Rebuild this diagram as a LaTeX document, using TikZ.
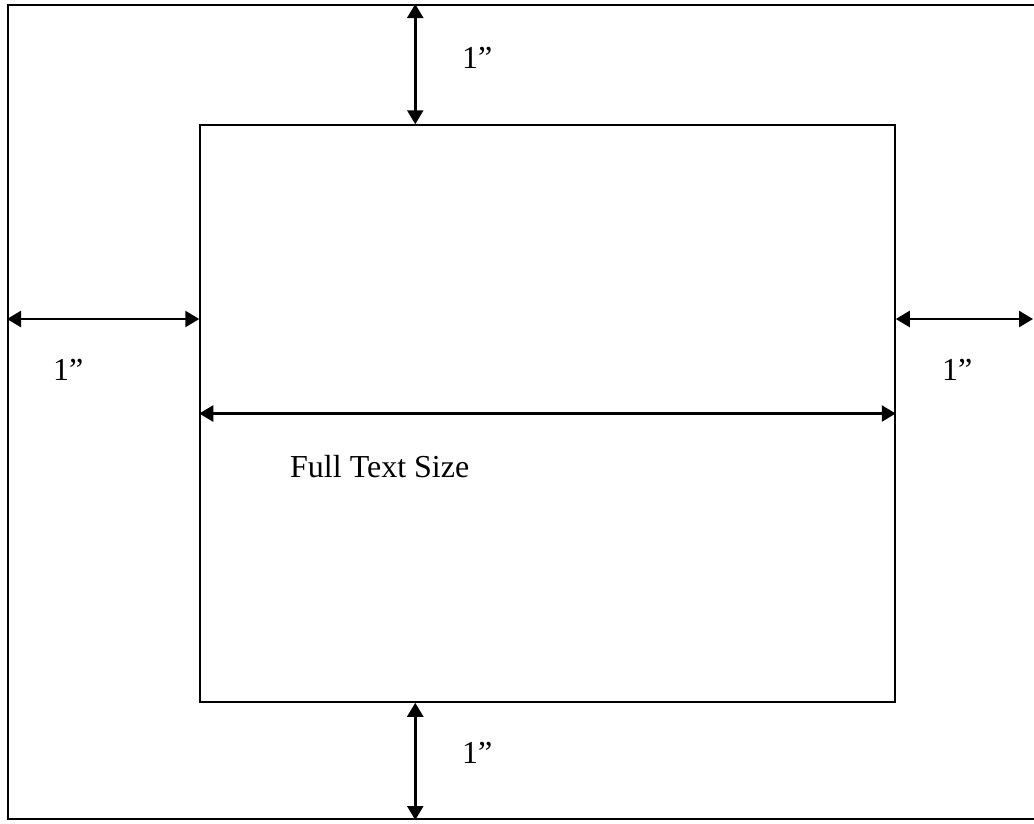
\documentclass[tikz,border=0pt]{standalone}
\usepackage{fontspec}
\setmainfont{Liberation Serif}
\usetikzlibrary{positioning,arrows.meta}
\newcommand{\frbox}[4]{
    \node(#1)[
        draw,
        line width=#2,
        inner sep=0pt,
        minimum width=#3,
        minimum height=#4,
    ]{};
}
\tikzset{
    dimarrow/.style={
        {Triangle[length=14pt,width=16pt]}-{Triangle[length=14pt,width=16pt]},
        line width=2.5pt,
    },
    dimlabel/.style={
        anchor=base west,
        inner sep=0pt,
        font=\fontsize{32}{38}\selectfont,
    },
}

\begin{document}
\begin{tikzpicture}[x=1pt,y=-1pt]
	\useasboundingbox (0,0) rectangle (1034,823);
	
	\begin{scope}[shift={(529,412)}]
	\frbox{page}{2pt}{1042pt}{814pt}
	\end{scope}
	\begin{scope}[shift={(547.5,413.5)}]
	\frbox{text}{1.5pt}{695pt}{577pt}
	\end{scope}
	
	\coordinate (topx) at ([xshift=216pt]text.north west);
	\coordinate (botx) at ([xshift=216pt]text.south west);
	\coordinate (midl) at ([yshift=94.5pt]text.west);
	\coordinate (midr) at ([yshift=94.5pt]text.east);
	\coordinate (edge) at (1033,0 |- midr);
	
	\draw[dimarrow] (topx |- page.north) -- (topx);
	\draw[dimarrow] (page.west |- midl) -- (midl);
	\draw[dimarrow] (midr) -- (edge);
	\draw[dimarrow] (text.west) -- (text.east);
	\draw[dimarrow] (botx) -- (botx |- page.south);
	
	\node(toplab)[dimlabel] at (462,68) {1”};
	\node(leftlab)[dimlabel] at (53,380) {1”};
	\node(rightlab)[dimlabel] at (942,380) {1”};
	\node(fulllab)[dimlabel] at (290,477) {Full Text Size};
	\node(botlab)[dimlabel] at (462,763) {1”};
\end{tikzpicture}
\end{document}
